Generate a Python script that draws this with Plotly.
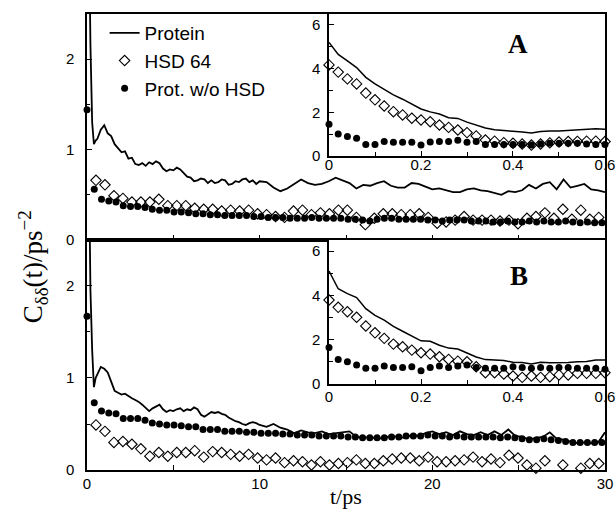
import plotly.graph_objects as go

# ---------------- data ----------------
# Protein (solid line), main panels, t in ps
prot_t = ([0.0, 0.1, 0.2, 0.3, 0.4, 0.5]
          + [round(0.6 + 0.2 * i, 2) for i in range(48)]
          + [round(10.4 + 0.4 * i, 2) for i in range(50)])

protA = [5.2, 3.3, 2.15, 1.3, 1.06, 1.1,
         1.12, 1.22, 1.27, 1.18, 1.15, 1.06, 1.02, 0.97, 0.98, 0.90,
         0.91, 0.84, 0.83, 0.85, 0.82, 0.86, 0.84, 0.87, 0.85, 0.79,
         0.76, 0.78, 0.77, 0.80, 0.78, 0.74, 0.70, 0.69, 0.65, 0.66,
         0.68, 0.67, 0.63, 0.66, 0.63, 0.64, 0.67, 0.66, 0.61, 0.62,
         0.65, 0.64, 0.67, 0.68, 0.64, 0.66, 0.62, 0.65,
         0.64, 0.58, 0.54, 0.57, 0.62, 0.67, 0.63, 0.61, 0.62, 0.65,
         0.69, 0.66, 0.63, 0.57, 0.61, 0.60, 0.63, 0.65, 0.60, 0.58,
         0.58, 0.63, 0.62, 0.59, 0.56, 0.57, 0.55, 0.53, 0.53, 0.56,
         0.57, 0.55, 0.54, 0.52, 0.50, 0.54, 0.53, 0.55, 0.61, 0.57,
         0.62, 0.64, 0.56, 0.67, 0.58, 0.60, 0.62, 0.56, 0.55, 0.53]

protB = [5.1, 3.1, 1.95, 1.3, 0.9, 1.0,
         1.04, 1.12, 1.10, 1.06, 0.96, 0.86, 0.84, 0.82, 0.83, 0.80,
         0.78, 0.76, 0.74, 0.71, 0.68, 0.64, 0.67, 0.69, 0.71, 0.66,
         0.63, 0.65, 0.64, 0.66, 0.67, 0.64, 0.66, 0.65, 0.68, 0.66,
         0.60, 0.58, 0.61, 0.63, 0.62, 0.63, 0.61, 0.60, 0.57, 0.55,
         0.53, 0.52, 0.50, 0.49, 0.51, 0.52, 0.51, 0.49,
         0.47, 0.50, 0.46, 0.44, 0.40, 0.43, 0.41, 0.40, 0.42, 0.39,
         0.40, 0.41, 0.42, 0.36, 0.35, 0.36, 0.34, 0.35, 0.37, 0.36,
         0.35, 0.38, 0.37, 0.40, 0.42, 0.39, 0.41, 0.38, 0.42, 0.39,
         0.38, 0.41, 0.38, 0.42, 0.38, 0.44, 0.37, 0.36, 0.33, 0.35,
         0.36, 0.41, 0.34, 0.33, 0.31, 0.29, 0.30, 0.29, 0.30, 0.41]

# HSD 64 (open diamonds), main panels
hsd_t = [round(0.52 * i, 2) for i in range(1, 58)]
hsdA = [0.66, 0.61, 0.49, 0.46, 0.42, 0.42, 0.42, 0.45, 0.38, 0.38,
        0.38, 0.35, 0.34, 0.34, 0.32, 0.33, 0.32, 0.33, 0.29, 0.28,
        0.26, 0.25, 0.32, 0.33, 0.28, 0.30, 0.29, 0.33, 0.33, 0.25,
        0.17, 0.24, 0.29, 0.29, 0.28, 0.28, 0.29, 0.25, 0.185, 0.20,
        0.22, 0.26, 0.22, 0.22, 0.22, 0.21, 0.22, 0.18, 0.24, 0.26,
        0.30, 0.24, 0.34, 0.23, 0.33, 0.23, 0.25]
hsdB = [0.49, 0.42, 0.30, 0.31, 0.28, 0.23, 0.15, 0.19, 0.15, 0.19,
        0.19, 0.21, 0.14, 0.20, 0.19, 0.17, 0.15, 0.17, 0.13, 0.11,
        0.13, 0.08, 0.10, 0.09, 0.055, 0.09, 0.055, 0.07, 0.08, 0.11,
        0.07, 0.07, 0.10, 0.12, 0.13, 0.13, 0.10, 0.14, 0.09, 0.09,
        0.10, 0.11, 0.14, 0.09, 0.12, 0.08, 0.16, 0.13, 0.055, 0.02,
        0.10, None, 0.055, None, 0.02, 0.07, 0.07]

# Protein without HSD (filled circles), main panels
wo_t = [round(0.42 * i, 2) for i in range(72)]
woA = [1.44, 0.56, 0.45, 0.43, 0.42, 0.38, 0.37, 0.37, 0.36, 0.34,
       0.33, 0.33, 0.31, 0.31, 0.30, 0.29, 0.29, 0.28, 0.28, 0.27,
       0.27, 0.27, 0.27, 0.26, 0.26, 0.25, 0.25, 0.25, 0.24, 0.24,
       0.24, 0.25, 0.24, 0.24, 0.24, 0.24, 0.23, 0.23, 0.22, 0.21,
       0.23, 0.24, 0.24, 0.23, 0.23, 0.23, 0.23, 0.22, 0.22, 0.21,
       0.22, 0.22, 0.22, 0.21, 0.21, 0.21, 0.20, 0.20, 0.21, 0.20,
       0.20, 0.21, 0.20, 0.21, 0.20, 0.20, 0.21, 0.20, 0.19, 0.20,
       0.19, 0.19]
woB = [1.67, 0.73, 0.64, 0.62, 0.61, 0.56, 0.56, 0.56, 0.54, 0.51,
       0.50, 0.49, 0.49, 0.48, 0.47, 0.47, 0.44, 0.44, 0.44, 0.42,
       0.42, 0.42, 0.41, 0.41, 0.40, 0.40, 0.40, 0.39, 0.39, 0.38,
       0.38, 0.38, 0.37, 0.37, 0.37, 0.37, 0.36, 0.36, 0.35, 0.35,
       0.35, 0.35, 0.36, 0.36, 0.37, 0.37, 0.37, 0.38, 0.37, 0.37,
       0.36, 0.37, 0.36, 0.36, 0.36, 0.36, 0.36, 0.35, 0.36, 0.35,
       0.34, 0.33, 0.33, 0.34, 0.33, 0.32, 0.31, 0.30, 0.30, 0.30,
       0.30, 0.30]

# Insets (first 0.6 ps)
ins_t = [round(0.02 * i, 2) for i in range(31)]
ins_protA = [5.2, 4.65, 4.35, 4.05, 3.6, 3.3, 3.05, 2.8, 2.6, 2.38,
             2.15, 2.02, 1.92, 1.75, 1.72, 1.55, 1.4, 1.28, 1.2, 1.15,
             1.13, 1.1, 1.05, 1.12, 1.15, 1.14, 1.17, 1.18, 1.22, 1.25, 1.22]
ins_hsdA = [4.17, 3.84, 3.53, 3.3, 2.88, 2.57, 2.29, 2.03, 1.88, 1.73,
            1.65, 1.57, 1.42, 1.31, 1.19, 1.07, 0.92, 0.73, 0.68, 0.61,
            0.58, 0.55, 0.5, 0.55, 0.6, 0.64, 0.66, 0.67, 0.68, 0.68, 0.66]
ins_woA = [1.45, 1.01, 0.89, 0.81, 0.53, 0.53, 0.66, 0.63, 0.63, 0.63,
           0.5, 0.64, 0.66, 0.66, 0.72, 0.63, 0.66, 0.53, 0.53, 0.53,
           0.53, 0.53, 0.5, 0.55, 0.58, 0.58, 0.58, 0.58, 0.55, 0.53, 0.53]
ins_protB = [5.1, 4.3, 4.08, 3.9, 3.4, 3.1, 2.88, 2.6, 2.38, 2.15,
             1.95, 1.93, 1.75, 1.62, 1.58, 1.4, 1.22, 1.1, 1.07, 1.06,
             0.98, 0.97, 0.9, 0.98, 0.96, 0.96, 0.97, 1.0, 1.02, 1.08, 1.08]
ins_hsdB = [3.79, 3.46, 3.26, 3.01, 2.62, 2.31, 2.06, 1.8, 1.68, 1.53,
            1.41, 1.35, 1.23, 1.11, 1.03, 1.0, 0.78, 0.51, 0.51, 0.45,
            0.36, 0.3, 0.36, 0.3, 0.33, 0.41, 0.41, 0.48, 0.48, 0.48, 0.51]
ins_woB = [1.65, 1.11, 1.0, 0.86, 0.71, 0.71, 0.81, 0.75, 0.75, 0.78,
           0.6, 0.75, 0.81, 0.75, 0.81, 0.86, 0.75, 0.71, 0.71, 0.71,
           0.78, 0.75, 0.71, 0.75, 0.71, 0.75, 0.75, 0.71, 0.71, 0.71, 0.66]

names = ["Protein", "HSD 64", "Prot. w/o HSD"]
main_xticks = [0, 10, 20, 30]
inset_xticks = [0, 0.2, 0.4, 0.6]

# ---------------- figure ----------------
BLACK = "black"
SANS = "Liberation Sans, Arial, sans-serif"
SERIF = "Liberation Serif, Times New Roman, serif"

fig = go.Figure()


def add_set(xa, ya, tp, yp, td, yd, tc, yc, legend, dsize, csize, lw):
    fig.add_trace(go.Scatter(x=tp, y=yp, mode="lines", name=names[0],
                             line=dict(color=BLACK, width=lw),
                             xaxis=xa, yaxis=ya, showlegend=legend))
    fig.add_trace(go.Scatter(x=td, y=yd, mode="markers", name=names[1],
                             marker=dict(symbol="diamond-open", size=dsize, color=BLACK,
                                         line=dict(width=1.1, color=BLACK)),
                             xaxis=xa, yaxis=ya, showlegend=legend, cliponaxis=False))
    fig.add_trace(go.Scatter(x=tc, y=yc, mode="markers", name=names[2],
                             marker=dict(symbol="circle", size=csize, color=BLACK),
                             xaxis=xa, yaxis=ya, showlegend=legend, cliponaxis=False))


add_set("x", "y", prot_t, protA, hsd_t, hsdA, wo_t, woA, True, 8, 7, 1.8)
add_set("x2", "y2", prot_t, protB, hsd_t, hsdB, wo_t, woB, False, 8, 7, 1.8)
add_set("x3", "y3", ins_t, ins_protA, ins_t, ins_hsdA, ins_t, ins_woA, False, 8, 7, 1.5)
add_set("x4", "y4", ins_t, ins_protB, ins_t, ins_hsdB, ins_t, ins_woB, False, 8, 7, 1.5)

axis_common = dict(showline=True, linecolor=BLACK, linewidth=1.5, showgrid=False,
                   zeroline=False, ticks="inside", tickcolor=BLACK, tickwidth=1.2,
                   ticklen=5, automargin=False,
                   tickfont=dict(family=SANS, size=15, color=BLACK))

YSPLIT = 0.5044

fig.update_layout(
    template="none",
    width=616, height=514,
    margin=dict(l=87, r=11, t=14, b=44, autoexpand=False),
    paper_bgcolor="white", plot_bgcolor="white",
    xaxis=dict(domain=[0, 1], anchor="y", range=[0, 30], mirror=True,
               tickvals=[0, 5, 10, 15, 20, 25, 30], showticklabels=False, **axis_common),
    yaxis=dict(domain=[YSPLIT, 1], anchor="x", range=[0, 2.5], mirror=True,
               tickvals=[0, 1, 2], ticklabelstandoff=8,
               minor=dict(tickvals=[0.5, 1.5], ticklen=3, ticks="inside", tickcolor=BLACK),
               **axis_common),
    xaxis2=dict(domain=[0, 1], anchor="y2", range=[0, 30], mirror=True,
                tickvals=main_xticks, ticktext=[str(v) for v in main_xticks],
                ticklabelstandoff=-1,
                minor=dict(tickvals=[5, 15, 25], ticklen=5, ticks="inside", tickcolor=BLACK),
                **axis_common),
    yaxis2=dict(domain=[0, YSPLIT], anchor="x2", range=[0, 2.5], mirror=True,
                tickvals=[0, 1, 2], ticklabelstandoff=8,
                minor=dict(tickvals=[0.5, 1.5], ticklen=3, ticks="inside", tickcolor=BLACK),
                **axis_common),
    xaxis3=dict(domain=[0.4672, 1], anchor="y3", range=[0, 0.6],
                tickvals=inset_xticks, ticktext=["0", "0.2", "0.4", "0.6"],
                ticklabelstandoff=-6,
                minor=dict(tickvals=[0.1, 0.3, 0.5], ticklen=4, ticks="inside", tickcolor=BLACK),
                **axis_common),
    yaxis3=dict(domain=[0.6886, 1], anchor="x3", range=[0, 6.5],
                tickvals=[0, 2, 4, 6], ticklabelstandoff=4,
                minor=dict(tickvals=[1, 3, 5], ticklen=4, ticks="inside", tickcolor=BLACK),
                **axis_common),
    xaxis4=dict(domain=[0.4672, 1], anchor="y4", range=[0, 0.6],
                tickvals=inset_xticks, ticktext=["0", "0.2", "0.4", "0.6"],
                ticklabelstandoff=-2,
                minor=dict(tickvals=[0.1, 0.3, 0.5], ticklen=4, ticks="inside", tickcolor=BLACK),
                **axis_common),
    yaxis4=dict(domain=[0.1886, YSPLIT], anchor="x4", range=[0, 6.5],
                tickvals=[0, 2, 4, 6], ticklabelstandoff=4,
                minor=dict(tickvals=[1, 3, 5], ticklen=4, ticks="inside", tickcolor=BLACK),
                **axis_common),
    legend=dict(x=0.034, y=1.0, xanchor="left", yanchor="top",
                bgcolor="rgba(0,0,0,0)", borderwidth=0,
                font=dict(family=SANS, size=19, color=BLACK),
                tracegroupgap=0),
    showlegend=True,
)

fig.add_annotation(text="<b>A</b>", xref="paper", yref="paper", x=0.832, y=0.934,
                   xanchor="center", yanchor="middle",
                   showarrow=False, font=dict(family=SERIF, size=27, color=BLACK))
fig.add_annotation(text="<b>B</b>", xref="paper", yref="paper", x=0.834, y=0.4254,
                   xanchor="center", yanchor="middle",
                   showarrow=False, font=dict(family=SERIF, size=27, color=BLACK))
fig.add_annotation(text="C<sub>δδ</sub>(t)/ps<sup>−2</sup>", xref="paper", yref="paper",
                   x=-0.104, y=0.445, textangle=-90, showarrow=False,
                   xanchor="center", yanchor="middle",
                   font=dict(family=SERIF, size=27, color=BLACK))
fig.add_annotation(text="t/ps", xref="paper", yref="paper", x=0.5, y=-0.059,
                   xanchor="center", yanchor="middle", showarrow=False,
                   font=dict(family=SERIF, size=22, color=BLACK))

fig.write_html("out.html", config={"displayModeBar": False},
               post_script="document.body.style.margin='0';document.body.style.overflow='hidden';")
